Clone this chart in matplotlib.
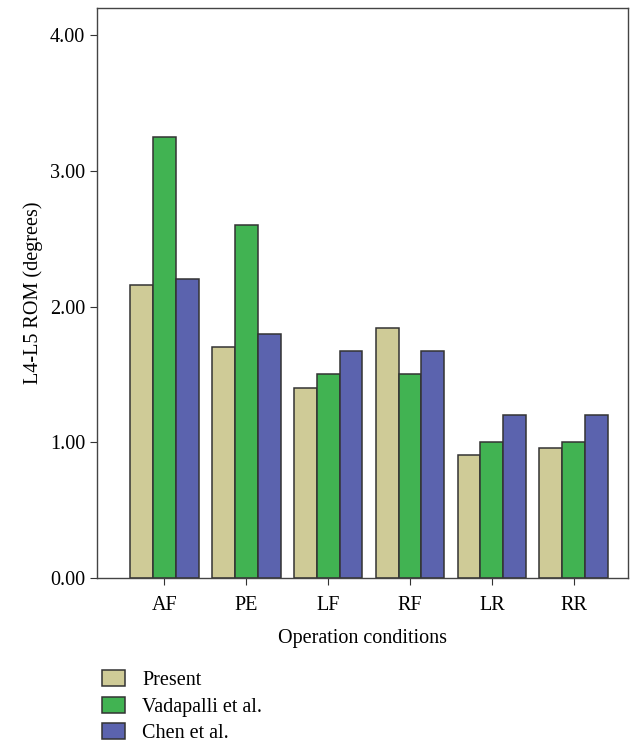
import matplotlib
matplotlib.use("Agg")
import matplotlib.pyplot as plt
import numpy as np

# operation conditions and ROM values (degrees)
conditions = ['AF', 'PE', 'LF', 'RF', 'LR', 'RR']
present = [2.16, 1.70, 1.40, 1.84, 0.91, 0.96]
vadapalli = [3.25, 2.60, 1.50, 1.50, 1.00, 1.00]
chen = [2.20, 1.80, 1.67, 1.67, 1.20, 1.20]
series_names = ['Present', 'Vadapalli et al.', 'Chen et al.']
colors = ['#CFCB97', '#41B352', '#5B63AE']

plt.rcParams['font.family'] = ['Liberation Serif', 'DejaVu Serif']

fig = plt.figure(figsize=(6.34, 7.44), dpi=100)
ax = fig.add_axes([0.153, 0.2231, 0.8375, 0.766])

x = np.arange(len(conditions))
w = 0.28
for i, (vals, name, c) in enumerate(zip([present, vadapalli, chen], series_names, colors)):
    ax.bar(x + (i - 1) * w, vals, width=w, color=c, edgecolor='#333333',
           linewidth=1.1, label=name, zorder=2)

ax.set_xlim(-0.82, 5.66)
ax.set_ylim(0, 4.2)
ax.set_yticks([0, 1, 2, 3, 4])
ax.set_yticklabels(['%.2f' % v for v in [0, 1, 2, 3, 4]])
ax.set_xticks(x)
ax.set_xticklabels(conditions)
ax.tick_params(axis='both', labelsize=14.5, color='#333333', length=5, direction='out')
ax.tick_params(axis='x', pad=8)
for s in ax.spines.values():
    s.set_color('#444444')
    s.set_linewidth(1.0)

ax.set_xlabel('Operation conditions', fontsize=14.5, labelpad=10)
ax.set_ylabel('L4-L5 ROM (degrees)', fontsize=14.5, labelpad=5)

fig.legend(loc='upper left', bbox_to_anchor=(0.148, 0.11), frameon=False,
           fontsize=14.5, handlelength=1.15, handleheight=0.85, labelspacing=0.32,
           handletextpad=0.85, borderaxespad=0.0)

fig.savefig('out.png', dpi=100)
